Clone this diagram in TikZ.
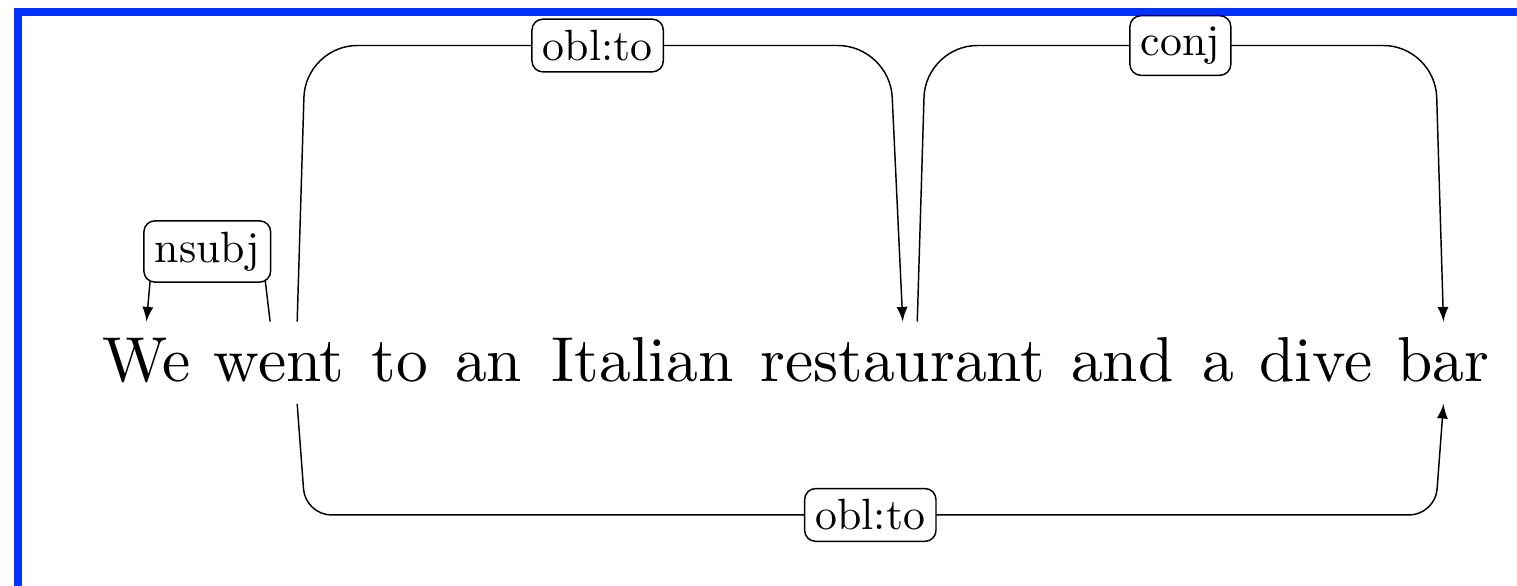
\documentclass[tikz,border=0pt]{standalone}
\usepackage{fontspec}
\newfontfamily\wordfont[Extension=.otf]{lmroman10-regular}
\usetikzlibrary{calc}
\definecolor{frameblue}{RGB}{0,51,255}
\tikzset{
	word/.style={font=\wordfont\fontsize{17.4}{21}\selectfont, anchor=base, inner xsep=0pt, inner ysep=4.5pt, text height=11.7pt, text depth=1.5pt},
	deplabel/.style={draw, fill=white, rounded corners=3pt, font=\wordfont\fontsize{12}{14}\selectfont, inner xsep=3pt, inner ysep=3pt},
	depedge/.style={-latex}
}
\begin{document}
\begin{tikzpicture}
		\useasboundingbox (0,0) rectangle (14.62,-5.64);
		\draw[frameblue, line width=2.2pt] (0.17,-0.12) rectangle (15,-6);
		% the sentence
		\node[word] (we) at (1.412,-3.675) {We};
		\node[word] (went) at (2.690,-3.675) {went};
		\node[word] (to) at (3.856,-3.675) {to};
		\node[word] (an) at (4.709,-3.675) {an};
		\node[word] (italian) at (6.194,-3.675) {Italian};
		\node[word] (restaurant) at (8.700,-3.675) {restaurant};
		\node[word] (and) at (10.816,-3.675) {and};
		\node[word] (a) at (11.742,-3.675) {a};
		\node[word] (dive) at (12.680,-3.675) {dive};
		\node[word] (bar) at (13.911,-3.675) {bar};
		% arcs above
		\draw[depedge, rounded corners=0.2cm] ([xshift=-0.087cm]went.north) -- ++(-0.08,0.675) -- node[deplabel] (lnsubj) {nsubj} ($(we.north)+(0.06,0.675)$) -- (we.north);
		\draw[depedge, rounded corners=0.5cm] ([xshift=0.174cm]went.north) -- ++(0.08,2.66) -- node[deplabel] (loblto) {obl:to} ($(restaurant.north)+(-0.125,2.66)$) -- (restaurant.north);
		\draw[depedge, rounded corners=0.5cm] ([xshift=0.14cm]restaurant.north) -- ++(0.08,2.66) -- node[deplabel] (lconj) {conj} ($(bar.north)+(-0.08,2.66)$) -- (bar.north);
		% arc below
		\draw[depedge, rounded corners=0.25cm] ([xshift=0.174cm]went.south) -- ++(0.08,-1.07) -- node[deplabel] (loblbar) {obl:to} ($(bar.south)+(-0.08,-1.07)$) -- (bar.south);
	\end{tikzpicture}
\end{document}
